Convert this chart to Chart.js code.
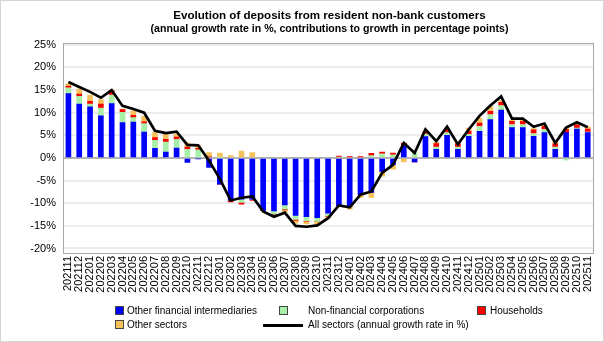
<!DOCTYPE html>
<html>
<head>
<meta charset="utf-8">
<script src="https://cdn.jsdelivr.net/npm/chart.js@4.4.1/dist/chart.umd.min.js"></script>
<style>
  body { margin: 0; background: #fff; font-family: "Liberation Sans", Arial, sans-serif; }
  #wrap { position: relative; width: 604px; height: 342px; }
  #frame { position: absolute; left: 0; top: 0; width: 602px; height: 340px; border: 1px solid #d4d4d4; pointer-events: none; }
  .title { position: absolute; left: 63px; width: 533px; text-align: center; font-weight: bold; color: #000; white-space: nowrap; }
  .lg { position: absolute; font-size: 10px; line-height: 12px; white-space: nowrap; color: #000; }
  .box { position: absolute; width: 7px; height: 7px; border: 1px solid #444; }
  .ln { position: absolute; width: 40px; height: 3px; background: #000; }
</style>
</head>
<body>
<div id="wrap">
  <canvas id="depositsChart" width="604" height="342"></canvas>
  <div class="title" style="top:8px;font-size:11.6px;">Evolution of deposits from resident non-bank customers</div>
  <div class="title" style="top:22px;font-size:10.6px;">(annual growth rate in %, contributions to growth in percentage points)</div>

  <div class="box" style="left:115px;top:306px;background:#0000ff;"></div>
  <div class="lg" style="left:127px;top:305px;">Other financial intermediaries</div>
  <div class="box" style="left:279px;top:306px;background:#a8f0a8;"></div>
  <div class="lg" style="left:308px;top:305px;">Non-financial corporations</div>
  <div class="box" style="left:477px;top:306px;background:#ff0000;"></div>
  <div class="lg" style="left:490px;top:305px;">Households</div>
  <div class="box" style="left:115px;top:320px;background:#f5c15a;"></div>
  <div class="lg" style="left:127px;top:319px;">Other sectors</div>
  <div class="ln" style="left:263px;top:324px;"></div>
  <div class="lg" style="left:308px;top:319px;">All sectors (annual growth rate in %)</div>
  <div id="frame"></div>
</div>
<script>
const months = [
    '202111', '202112', '202201', '202202', '202203', '202204', '202205', '202206',
    '202207', '202208', '202209', '202210', '202211', '202212', '202301', '202302',
    '202303', '202304', '202305', '202306', '202307', '202308', '202309', '202310',
    '202311', '202312', '202401', '202402', '202403', '202404', '202405', '202406',
    '202407', '202408', '202409', '202410', '202411', '202412', '202501', '202502',
    '202503', '202504', '202505', '202506', '202507', '202508', '202509', '202510',
    '202511'
];

const otherFinancial = [
    14.2, 11.9, 11.3, 9.3, 12.0, 7.8, 7.9, 5.7,
    2.1, 1.3, 2.2, -1.0, -0.2, -2.1, -5.8, -9.3,
    -9.1, -9.1, -11.6, -11.7, -10.4, -12.7, -13.0, -13.2,
    -12.2, -10.6, -10.6, -8.1, -7.6, -3.0, -1.5, 2.6,
    -0.9, 4.7, 1.9, 5.0, 1.9, 4.8, 5.9, 8.5,
    10.6, 6.7, 6.7, 4.8, 5.6, 1.9, 5.6, 6.4,
    5.6
];

const nonFinancial = [
    1.3, 1.7, 0.6, 1.7, 1.9, 2.3, 1.0, 1.9,
    1.8, 2.2, 1.9, 1.9, 1.8, 0.2, 0.1, 0.0,
    -0.7, 0.0, 0.0, -0.7, -0.9, -0.9, -0.9, -0.8,
    -0.6, 0.1, 0.0, 0.0, 0.5, 0.9, 0.7, 0.0,
    1.1, 0.6, 0.5, 0.6, 0.5, 0.4, 1.1, 1.1,
    1.0, 0.7, 0.7, 0.6, 0.7, 0.5, -0.5, 0.2,
    0.1
];

const households = [
    0.4, 0.5, 0.6, 0.9, 0.9, 0.6, 0.5, 0.4,
    0.6, 0.6, 0.5, 0.5, 0.3, 0.1, 0.0, -0.4,
    -0.4, -0.3, 0.0, -0.2, -0.2, -0.2, -0.1, -0.1,
    -0.1, 0.3, 0.3, 0.3, 0.5, 0.4, 0.4, 0.7,
    0.0, 0.4, 0.8, 0.7, 0.7, 0.7, 0.7, 0.7,
    0.7, 0.7, 0.7, 0.8, 0.7, 0.7, 0.7, 0.7,
    0.7
];

const otherSectors = [
    0.5, 1.1, 1.4, 1.0, 0.2, 0.1, 1.0, 1.2,
    1.1, 1.1, 0.6, 0.9, 0.6, 0.9, 1.0, 0.5,
    1.5, 1.2, 0.0, 0.0, -0.5, -0.6, -0.6, -0.5,
    -0.4, 0.0, -0.7, -0.6, -1.1, -1.0, -1.0, -0.9,
    0.0, 0.3, 0.3, 0.3, 0.3, 0.7, 1.1, 1.1,
    0.4, 0.2, 0.2, 0.3, 0.2, 0.4, 0.2, 0.3,
    0.5
];

const allSectors = [
    16.8, 15.7, 14.6, 13.3, 15.0, 11.5, 10.8, 10.0,
    6.0, 5.5, 5.8, 2.9, 2.8, -0.6, -4.6, -9.4,
    -8.8, -8.5, -11.8, -13.0, -12.1, -15.0, -15.2, -14.9,
    -13.3, -10.5, -10.9, -8.1, -7.4, -3.3, -1.5, 3.3,
    1.1, 6.3, 3.7, 6.9, 3.0, 6.3, 9.3, 11.6,
    13.6, 8.7, 8.7, 6.9, 7.6, 3.3, 6.7, 7.9,
    6.8
];

const yTicks = [-20, -15, -10, -5, 0, 5, 10, 15, 20, 25];

const fontFamily = '"Liberation Sans", Arial, sans-serif';

// frame around the plot area
const plotFrame = {
    id: 'plotFrame',
    afterDraw(chart) {
        const a = chart.chartArea;
        const ctx = chart.ctx;
        ctx.save();
        ctx.strokeStyle = '#a8a8a8';
        ctx.lineWidth = 1;
        ctx.strokeRect(Math.round(a.left) + 0.5, Math.round(a.top) + 0.5,
            Math.round(a.right - a.left), Math.round(a.bottom - a.top));
        ctx.restore();
    }
};

function barSet(label, data, color) {
    return {
        type: 'bar',
        label: label,
        data: data,
        backgroundColor: color,
        borderWidth: 0,
        barThickness: 5,
        stack: 'sectors'
    };
}

new Chart(document.getElementById('depositsChart').getContext('2d'), {
    data: {
        labels: months,
        datasets: [
            {
                type: 'line',
                label: 'All sectors (annual growth rate in %)',
                data: allSectors,
                borderColor: '#000',
                borderWidth: 2.7,
                pointRadius: 0,
                tension: 0,
                stack: 'total',
                order: -1
            },
            barSet('Other financial intermediaries', otherFinancial, '#0000ff'),
            barSet('Non-financial corporations', nonFinancial, '#a8f0a8'),
            barSet('Households', households, '#ff0000'),
            barSet('Other sectors', otherSectors, '#f5c15a')
        ]
    },
    options: {
        responsive: false,
        animation: false,
        layout: { padding: { top: 43, right: 8, left: 0, bottom: 0 } },
        plugins: {
            legend: { display: false },
            title: { display: false },
            tooltip: { enabled: false }
        },
        scales: {
            x: {
                stacked: true,
                offset: true,
                grid: { display: false, drawTicks: false },
                border: { display: false },
                ticks: {
                    autoSkip: false,
                    minRotation: 90,
                    maxRotation: 90,
                    padding: 3,
                    color: '#000',
                    font: { family: fontFamily, size: 11 }
                },
                afterFit(scale) { scale.height = 89; }
            },
            y: {
                stacked: true,
                min: -21,
                max: 25.4,
                afterBuildTicks(scale) {
                    scale.ticks = yTicks.map(v => ({ value: v }));
                },
                grid: {
                    drawTicks: false,
                    lineWidth: 2,
                    color: ctx => ctx.tick && ctx.tick.value === 0 ? '#b4b4b4' : '#ececec'
                },
                border: { display: false },
                ticks: {
                    padding: 7,
                    color: '#000',
                    font: { family: fontFamily, size: 11 },
                    callback: v => v + '%'
                },
                afterFit(scale) { scale.width = 63; }
            }
        }
    },
    plugins: [plotFrame]
});
</script>
</body>
</html>
